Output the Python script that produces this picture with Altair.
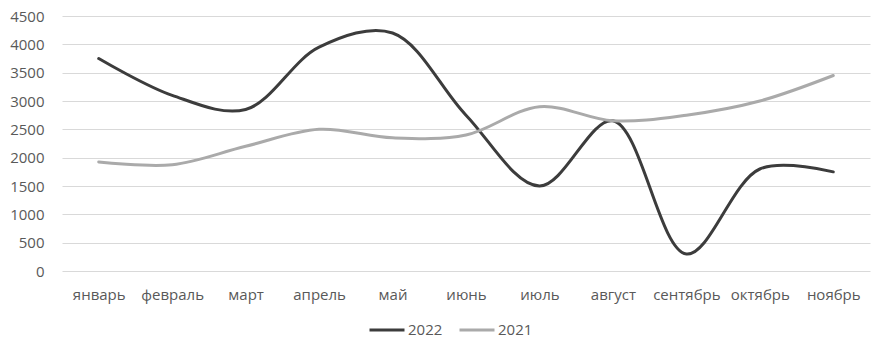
import altair as alt
import pandas as pd

months = ["январь", "февраль", "март", "апрель", "май", "июнь",
          "июль", "август", "сентябрь", "октябрь", "ноябрь"]
values_2022 = [3750, 3100, 2850, 3950, 4200, 2750, 1500, 2650, 300, 1800, 1750]
values_2021 = [1925, 1875, 2200, 2500, 2350, 2400, 2900, 2650, 2750, 3000, 3450]
series = ["2022", "2021"]
colors = ["#3c3c3c", "#aaaaaa"]

rows = []
for m, v in zip(months, values_2022):
    rows.append({"month": m, "value": v, "year": "2022"})
for m, v in zip(months, values_2021):
    rows.append({"month": m, "value": v, "year": "2021"})
df = pd.DataFrame(rows)

FONT = "Open Sans"
TXT = "#595959"

chart = alt.Chart(df).mark_line(
    interpolate="catmull-rom", strokeWidth=3, strokeCap="round"
).encode(
    x=alt.X("month:N", sort=months, title=None,
            scale=alt.Scale(paddingInner=0, paddingOuter=0.5),
            axis=alt.Axis(labelAngle=0, domain=False, ticks=False, labelPadding=16,
                          labelFont=FONT, labelFontSize=15, labelColor=TXT)),
    y=alt.Y("value:Q", title=None,
            scale=alt.Scale(domain=[0, 4500], nice=False),
            axis=alt.Axis(values=list(range(0, 4501, 500)), format="d",
                          domain=False, ticks=False,
                          labelPadding=18, labelFont=FONT, labelFontSize=15,
                          labelColor=TXT, gridColor="#d9d9d9", gridWidth=1.2)),
    color=alt.Color("year:N", sort=series,
                    scale=alt.Scale(domain=series, range=colors),
                    legend=alt.Legend(title=None, orient="none", direction="horizontal",
                                      legendX=306, legendY=295,
                                      symbolType="stroke", symbolSize=1225,
                                      symbolStrokeWidth=3, labelFont=FONT,
                                      labelFontSize=15, labelColor=TXT,
                                      labelOffset=2, columnPadding=10)),
).properties(
    width=808, height=255,
    background="white",
    autosize=alt.AutoSizeParams(type="none"),
    padding={"left": 62, "top": 16, "right": 7, "bottom": 70},
).configure_view(stroke=None)

chart.save("out.html", embed_options={"renderer": "svg", "actions": False})
